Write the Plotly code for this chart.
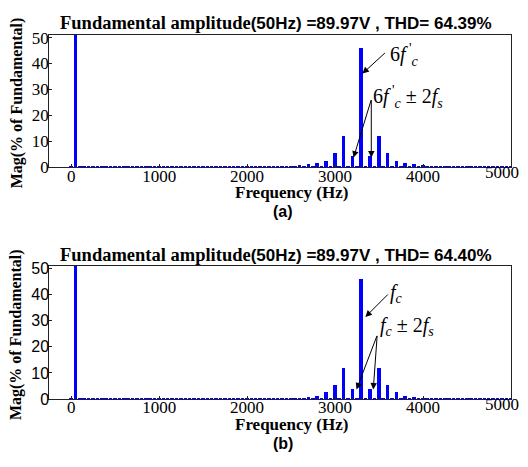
import plotly.graph_objects as go

W, H = 528, 467

# ---------------- data ----------------
freqs = list(range(0, 5001, 50))  # harmonic frequencies (Hz)

mag_a = [0.3, 100, 0.2, 0.15, 0.2, 0.15, 0.2, 0.15, 0.2, 0.15,
         0.2, 0.15, 0.2, 0.15, 0.2, 0.15, 0.2, 0.15, 0.2, 0.15,
         0.2, 0.15, 0.2, 0.15, 0.2, 0.15, 0.2, 0.15, 0.2, 0.15,
         0.2, 0.15, 0.2, 0.15, 0.2, 0.15, 0.2, 0.15, 0.2, 0.15,
         0.25, 0.15, 0.3, 0.15, 0.3, 0.15, 0.35, 0.15, 0.45, 0.2,
         0.6, 0.2, 0.85, 0.2, 1.1, 0.2, 1.6, 0.2, 2.6, 0.2,
         5.4, 0.2, 11.9, 0.2, 4.2, 0.2, 45.8, 0.2, 4.2, 0.2,
         11.9, 0.2, 5.4, 0.2, 2.6, 0.2, 1.6, 0.2, 1.1, 0.2,
         0.85, 0.2, 0.6, 0.2, 0.45, 0.15, 0.35, 0.15, 0.3, 0.15,
         0.3, 0.15, 0.25, 0.15, 0.2, 0.15, 0.2, 0.15, 0.2, 0.15,
         0.2]

mag_b = [0.3, 100, 0.2, 0.15, 0.2, 0.15, 0.2, 0.15, 0.2, 0.15,
         0.2, 0.15, 0.2, 0.15, 0.2, 0.15, 0.2, 0.15, 0.2, 0.15,
         0.2, 0.15, 0.2, 0.15, 0.2, 0.15, 0.2, 0.15, 0.2, 0.15,
         0.2, 0.15, 0.2, 0.15, 0.2, 0.15, 0.2, 0.15, 0.2, 0.15,
         0.25, 0.15, 0.3, 0.15, 0.3, 0.15, 0.35, 0.15, 0.45, 0.2,
         0.5, 0.2, 0.6, 0.2, 1.0, 0.2, 1.4, 0.2, 2.6, 0.2,
         5.3, 0.2, 11.9, 0.2, 3.8, 0.2, 46.2, 0.2, 3.8, 0.2,
         11.9, 0.2, 5.3, 0.2, 2.6, 0.2, 1.4, 0.2, 1.0, 0.2,
         0.6, 0.2, 0.5, 0.2, 0.45, 0.15, 0.35, 0.15, 0.3, 0.15,
         0.3, 0.15, 0.25, 0.15, 0.2, 0.15, 0.2, 0.15, 0.2, 0.15,
         0.2]

title_a = "(50Hz) =89.97V , THD= 64.39%"
title_b = "(50Hz) =89.97V , THD= 64.40%"
x_ticks = [0, 1000, 2000, 3000, 4000, 5000]
x_ticktext = ["0", "1000", "2000", "3000", "4000", ""]
x_last_tick = [5000]
x_last_text = ["5000"]
y_ticks = [0, 10, 20, 30, 40, 50]

# ---------------- layout helpers ----------------
def px(x):
    return x / W

def py(y):
    return 1 - y / H

SERIF = "Liberation Serif, Times New Roman, serif"
SANS = "Liberation Sans, Arial, sans-serif"
BLUE = "rgb(0,0,255)"

fig = go.Figure()
fig.add_trace(go.Bar(x=freqs, y=mag_a, width=40, marker=dict(color=BLUE, line=dict(width=0)),
                     xaxis="x", yaxis="y", showlegend=False))
fig.add_trace(go.Bar(x=freqs, y=mag_b, width=40, marker=dict(color=BLUE, line=dict(width=0)),
                     xaxis="x2", yaxis="y2", showlegend=False))
# empty traces so the overlay label axes are drawn
fig.add_trace(go.Scatter(x=[], y=[], xaxis="x3", yaxis="y", showlegend=False, hoverinfo="skip"))
fig.add_trace(go.Scatter(x=[], y=[], xaxis="x4", yaxis="y2", showlegend=False, hoverinfo="skip"))

axis_common = dict(showgrid=False, zeroline=False, showline=True, linecolor="#222",
                   linewidth=1, mirror=True, ticks="inside", ticklen=3, tickcolor="#222")

XR = [-250, 5002]
XDOM = [px(50), px(519)]
xfont = dict(family=SERIF, size=17, color="black")
xcommon = dict(range=XR, tickvals=x_ticks, ticktext=x_ticktext, ticklabelstandoff=-7,
               domain=XDOM, tickfont=xfont, **axis_common)
xlast = dict(range=XR, tickvals=x_last_tick, ticktext=x_last_text, ticklabelstandoff=-7,
             ticklabelshift=-9, domain=XDOM, tickfont=xfont, showgrid=False, zeroline=False,
             showline=False, ticks="", side="bottom", ticklabeloverflow="allow")
fig.update_layout(
    width=W, height=H, margin=dict(l=0, r=0, t=0, b=0),
    paper_bgcolor="white", plot_bgcolor="white", bargap=0,
    xaxis=dict(anchor="y", **xcommon),
    yaxis=dict(domain=[py(167), py(30)], range=[0, 51], tickvals=y_ticks, ticklabelstandoff=-4,
               tickfont=dict(family=SERIF, size=17, color="black"), anchor="x", **axis_common),
    xaxis2=dict(anchor="y2", **xcommon),
    yaxis2=dict(domain=[py(407), py(269)], range=[0, 51], tickvals=y_ticks, ticklabelstandoff=-4,
                tickfont=dict(family=SANS, size=16, color="black"), anchor="x2", **axis_common),
    xaxis3=dict(anchor="y", overlaying="x", **xlast),
    xaxis4=dict(anchor="y2", overlaying="x2", **xlast),
)
fig.update_xaxes(tickprefix="<b>", ticksuffix="</b>")
fig.update_yaxes(tickprefix="<b>", ticksuffix="</b>")

ann = []

def text_ann(x, y, text, size, family, **kw):
    d = dict(x=px(x), y=py(y), xref="paper", yref="paper", text=text, showarrow=False,
             xanchor="center", yanchor="middle",
             font=dict(family=family, size=size, color="black"))
    d.update(kw)
    ann.append(d)

for ttl, ty, fy, ly, lab in [(title_a, 18, 193, 213, "(a)"), (title_b, 258, 433, 453, "(b)")]:
    text_ann(280, ty,
             '<b><span style="font-family:Liberation Serif;font-size:18.5px">Fundamental amplitude</span>'
             '<span style="font-family:Liberation Sans;font-size:17px">' + ttl + '</span></b>',
             17, SANS)
    text_ann(296, fy, "<b>Frequency (Hz)</b>", 17, SERIF)
    text_ann(287, ly, "<b>" + lab + "</b>", 16, SANS)

text_ann(17, 100, "<b>Mag(% of Fundamental)</b>", 16, SERIF, textangle=-90)
text_ann(17, 340, "<b>Mag(% of Fundamental)</b>", 16, SERIF, textangle=-90)

# math labels
text_ann(394, 51, "6<i>f</i><sup> '</sup><sub><i>c</i></sub>", 20, SERIF, xanchor="left")
text_ann(377, 94, "6<i>f</i><sup> '</sup><sub><i>c</i></sub> ± 2<i>f</i><sub><i>s</i></sub>", 20, SERIF, xanchor="left")
text_ann(394, 298, "<i>f</i><sub><i>c</i></sub>", 20, SERIF, xanchor="left")
text_ann(384, 332, "<i>f</i><sub><i>c</i></sub> ± 2<i>f</i><sub><i>s</i></sub>", 20, SERIF, xanchor="left")

# arrows (head in paper coords, tail as pixel offset)
def arrow(x0, y0, x1, y1):
    ann.append(dict(x=px(x1), y=py(y1), xref="paper", yref="paper",
                    ax=x0 - x1, ay=y0 - y1, axref="pixel", ayref="pixel",
                    text="", showarrow=True, arrowhead=2, arrowsize=1.3, arrowwidth=1,
                    arrowcolor="black"))

arrow(392, 48, 368, 70)
arrow(377, 98, 359, 157)
arrow(377, 98, 377, 157)
arrow(395, 298, 371, 322)
arrow(383, 342, 362, 397)
arrow(383, 342, 379, 397)

fig.update_layout(annotations=ann)
fig.write_html("out.html")
